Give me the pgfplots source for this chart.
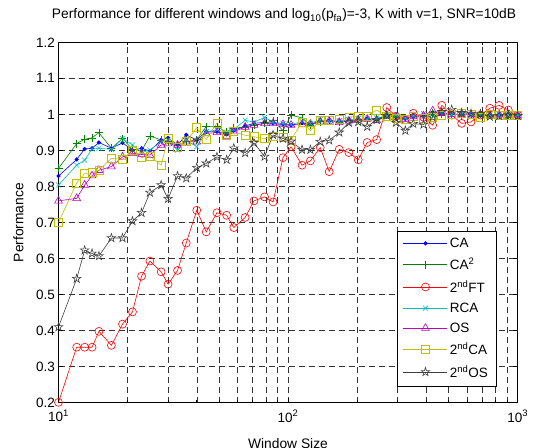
\documentclass[border=0pt]{standalone}
\usepackage{fontspec}
\setmainfont{Liberation Sans}
\usepackage{pgfplots}
\pgfplotsset{compat=1.18}
\usepackage{pgfplotstable}

\definecolor{mblue}{rgb}{0,0,1}
\definecolor{mgreen}{rgb}{0,0.5,0}
\definecolor{mred}{rgb}{1,0,0}
\definecolor{mcyan}{rgb}{0,0.75,0.75}
\definecolor{mmag}{rgb}{0.75,0,0.75}
\definecolor{myel}{rgb}{0.75,0.75,0}
\definecolor{mdark}{rgb}{0.25,0.25,0.25}

\pgfdeclareplotmark{pentagram}{%
 \pgfpathmoveto{\pgfpointpolar{90}{\pgfplotmarksize}}%
 \pgfpathlineto{\pgfpointpolar{126}{0.382*\pgfplotmarksize}}%
 \pgfpathlineto{\pgfpointpolar{162}{\pgfplotmarksize}}%
 \pgfpathlineto{\pgfpointpolar{198}{0.382*\pgfplotmarksize}}%
 \pgfpathlineto{\pgfpointpolar{234}{\pgfplotmarksize}}%
 \pgfpathlineto{\pgfpointpolar{270}{0.382*\pgfplotmarksize}}%
 \pgfpathlineto{\pgfpointpolar{306}{\pgfplotmarksize}}%
 \pgfpathlineto{\pgfpointpolar{342}{0.382*\pgfplotmarksize}}%
 \pgfpathlineto{\pgfpointpolar{18}{\pgfplotmarksize}}%
 \pgfpathlineto{\pgfpointpolar{54}{0.382*\pgfplotmarksize}}%
 \pgfpathclose\pgfusepathqstroke}

\pgfplotstableread{
x ca ca2 ft rca os sca sos
10 0.829 0.850 0.201 0.804 0.760 0.700 0.410
12 0.875 0.919 0.354 0.859 0.767 0.810 0.544
13 0.904 0.931 0.354 0.873 0.804 0.836 0.623
14 0.906 0.935 0.354 0.904 0.830 0.838 0.614
15 0.922 0.949 0.398 0.906 0.845 0.845 0.607
17 0.906 0.906 0.359 0.903 0.855 0.878 0.657
19 0.921 0.933 0.418 0.933 0.882 0.875 0.657
21 0.901 0.903 0.452 0.915 0.892 0.901 0.704
23 0.906 0.899 0.551 0.894 0.889 0.880 0.727
25 0.898 0.940 0.593 0.901 0.887 0.884 0.783
28 0.929 0.929 0.563 0.924 0.915 0.859 0.804
30 0.935 0.924 0.529 0.929 0.919 0.935 0.766
33 0.915 0.915 0.567 0.901 0.915 0.910 0.829
36 0.943 0.924 0.643 0.929 0.924 0.924 0.823
40 0.929 0.930 0.734 0.910 0.924 0.963 0.852
44 0.952 0.966 0.674 0.952 0.947 0.930 0.864
49 0.952 0.966 0.727 0.957 0.950 0.976 0.882
54 0.945 0.950 0.720 0.950 0.940 0.942 0.874
58 0.955 0.962 0.686 0.958 0.952 0.952 0.906
65 0.968 0.965 0.714 0.984 0.965 0.942 0.893
71 0.975 0.970 0.760 0.978 0.970 0.938 0.921
79 0.978 0.975 0.771 0.992 0.975 0.933 0.883
86 0.975 0.983 0.757 0.978 0.975 0.938 0.943
95 0.972 0.955 0.880 0.975 0.972 0.937 0.933
103 0.970 0.998 0.910 0.972 0.970 0.929 0.925
115 0.976 0.990 0.859 0.980 0.972 0.979 0.902
125 0.972 0.970 0.871 0.975 0.973 0.955 0.902
138 0.982 0.980 0.908 0.985 0.980 0.984 0.924
151 0.983 0.984 0.841 0.980 0.982 0.983 0.928
167 0.980 0.978 0.903 0.982 0.978 0.985 0.950
184 0.984 0.982 0.894 0.985 0.982 0.992 0.977
202 0.985 0.985 0.874 0.988 0.985 0.996 0.979
221 0.988 0.985 0.922 0.986 0.987 0.996 0.966
243 0.985 0.988 0.930 0.990 0.983 1.012 0.985
269 0.996 0.997 1.019 0.995 0.995 0.995 0.997
295 0.992 0.992 0.995 0.998 0.993 0.990 0.977
324 0.987 0.990 0.985 0.990 0.986 0.985 0.955
351 0.993 0.995 1.003 0.996 0.994 0.995 0.974
389 0.995 0.994 0.992 1.002 0.996 0.990 0.972
426 1.005 1.005 0.970 1.000 1.010 0.992 0.992
467 1.003 1.002 1.025 1.002 1.003 0.998 1.007
516 1.000 1.000 0.998 0.999 1.000 1.000 1.013
570 0.999 0.999 0.975 1.000 1.000 1.002 1.004
626 1.000 0.999 0.979 0.999 0.999 1.000 1.002
688 0.998 1.000 0.998 0.998 0.999 0.992 1.001
756 0.998 0.998 1.017 0.999 0.998 1.000 0.994
830 0.999 0.999 1.025 0.998 0.999 0.998 0.996
910 0.998 0.998 1.012 0.998 0.998 0.998 0.998
1000 0.998 0.998 0.998 0.998 0.998 0.998 0.996
}\perf

\begin{document}
\begin{tikzpicture}
\begin{axis}[
  at={(0,0)}, anchor=south west,
  scale only axis, width=459.2pt, height=360.4pt,
  xmode=log, xmin=10, xmax=1000, ymin=0.2, ymax=1.2,
  xtick={10,100,1000},
  xticklabels={10\textsuperscript{1},10\textsuperscript{2},10\textsuperscript{3}},
  minor xtick={20,30,40,50,60,70,80,90,200,300,400,500,600,700,800,900},
  ytick={0.2,0.3,0.4,0.5,0.6,0.7,0.8,0.9,1,1.1,1.2},
  yticklabels={0.2,0.3,0.4,0.5,0.6,0.7,0.8,0.9,1,1.1,1.2},
  tick align=inside, xtick pos=both, ytick pos=both,
  major tick length=5pt, minor tick length=3pt,
  every tick/.style={black, line width=0.5pt},
  xmajorgrids, xminorgrids, ymajorgrids,
  major grid style={black!80, line width=0.45pt, dash pattern=on 6pt off 4pt},
  minor grid style={black!80, line width=0.45pt, dash pattern=on 6pt off 4pt},
  axis line style={black, line width=0.8pt},
  ticklabel style={font=\fontsize{13.5}{16}\selectfont},
  xticklabel style={yshift=-4pt},
  legend style={at={(0.9527,0.4772)}, anchor=north east, draw=black, fill=white,
    font=\fontsize{13.5}{16}\selectfont, row sep=5pt, inner xsep=6pt, inner ysep=5pt},
  legend cell align=left,
  legend image code/.code={\draw[mark repeat=2,mark phase=2] plot coordinates {(0pt,0pt) (22pt,0pt) (44pt,0pt)};},
  every axis plot/.append style={line width=0.6pt},
]
\addplot[color=mblue, mark=*, mark size=1.8pt] table[x=x,y=ca]{\perf};
\addlegendentry{CA}
\addplot[color=mgreen, mark=+, mark size=4pt] table[x=x,y=ca2]{\perf};
\addlegendentry{CA\textsuperscript{2}}
\addplot[color=mred, mark=o, mark size=4pt] table[x=x,y=ft]{\perf};
\addlegendentry{2\textsuperscript{nd}FT}
\addplot[color=mcyan, mark=x, mark size=3.5pt] table[x=x,y=rca]{\perf};
\addlegendentry{RCA}
\addplot[color=mmag, mark=triangle, mark size=4.5pt] table[x=x,y=os]{\perf};
\addlegendentry{OS}
\addplot[color=myel, mark=square, mark size=4pt] table[x=x,y=sca]{\perf};
\addlegendentry{2\textsuperscript{nd}CA}
\addplot[color=mdark, mark=pentagram, mark size=4.5pt] table[x=x,y=sos]{\perf};
\addlegendentry{2\textsuperscript{nd}OS}
\end{axis}
\node[font=\fontsize{13.8}{16}\selectfont, anchor=base] at (225.5pt,383.7pt)
  {Performance for different windows and log\textsubscript{10}(p\textsubscript{fa})=-3, K with v=1, SNR=10dB};
\node[font=\fontsize{13.8}{16}\selectfont, rotate=90] at (-40pt,180pt) {Performance};
\node[font=\fontsize{13.8}{16}\selectfont, anchor=north, inner sep=0pt] at (229.5pt,-35.5pt) {Window Size};
\pgfresetboundingbox
\useasboundingbox (-58.5pt,-44.3pt) rectangle (478.5pt,402.7pt);
\end{tikzpicture}
\end{document}
